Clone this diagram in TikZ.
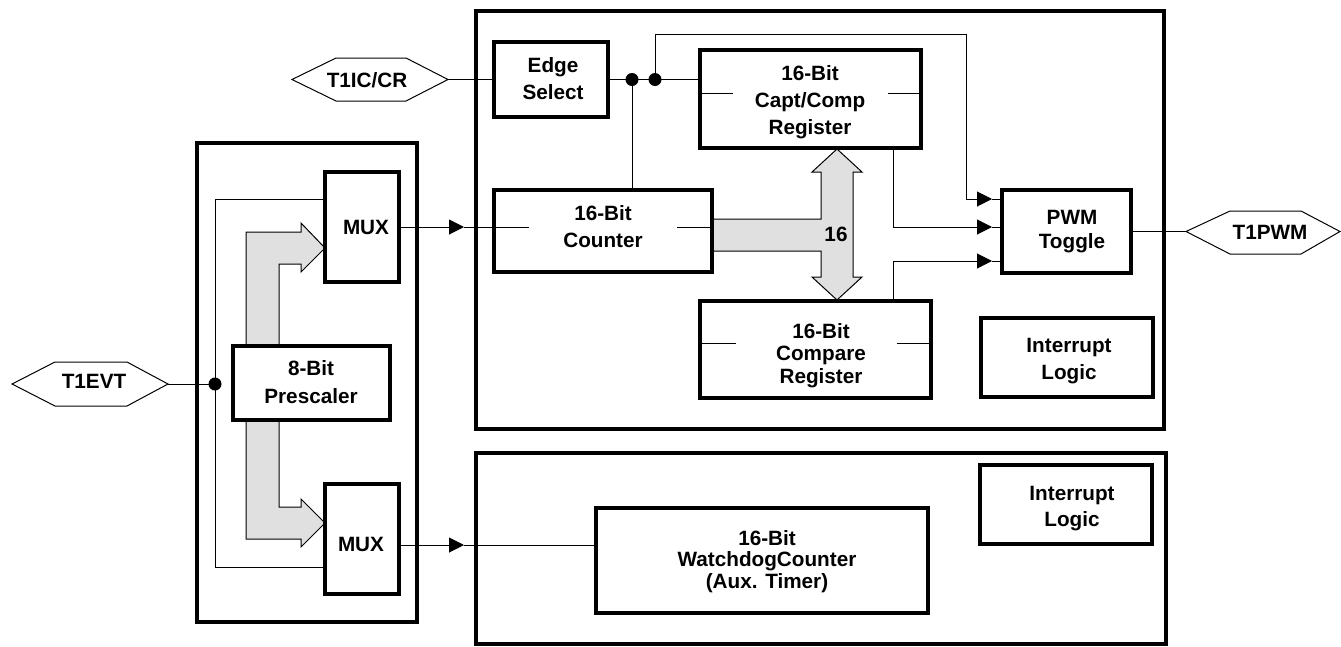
\documentclass[tikz,border=0pt]{standalone}
\usepackage{fontspec}
\setmainfont{Liberation Sans}
\usetikzlibrary{arrows.meta,fit}
\definecolor{busgray}{RGB}{224,224,224}
\begin{document}
\begin{tikzpicture}[x=1pt,y=-1pt,
  ln/.style={line width=1pt, line join=miter},
  blk/.style={draw, line width=3.3pt, inner sep=0pt, line join=miter},
  arr/.style={-{Triangle[length=15pt,width=15pt]}},
  txt/.style={inner sep=0pt, align=center, font=\bfseries\fontsize{20.7}{27}\selectfont},
  bus/.style={fill=busgray, draw, line width=1pt, line join=miter},
  dot/.style={fill=black},
]
\useasboundingbox (0,0) rectangle (1341,646);

% ---- wide buses ----
\path[bus] (246,346) -- (246,232) -- (301,232) -- (301,223) -- (325,248) -- (301,272) -- (301,264) -- (279,264) -- (279,346);
\path[bus] (246,420) -- (246,539) -- (301,539) -- (301,547) -- (325,523) -- (301,499) -- (301,507) -- (279,507) -- (279,420);
\path[bus] (712,219) -- (821,219) -- (821,172) -- (812,172) -- (837,149) -- (862,172) -- (853,172) -- (853,277) -- (862,277) -- (837,300) -- (812,277) -- (821,277) -- (821,251) -- (712,251);

% ---- frames ----
\node[blk, fit={(476,11) (1164,429)}] (capframe) {};
\node[blk, fit={(476,453) (1166,644)}] (wdframe) {};
\node[blk, fit={(197,143) (417,622)}] (preframe) {};

% ---- blocks ----
\node[blk, fit={(494,42) (608,117)}] (edge) {};
\node[blk, fit={(700,50) (921,148)}] (capt) {};
\node[blk, fit={(494,190) (712,272)}] (counter) {};
\node[blk, fit={(700,301) (931,398)}] (compare) {};
\node[blk, fit={(1002,190) (1131,273)}] (pwm) {};
\node[blk, fit={(981,318) (1153,397)}] (intA) {};
\node[blk, fit={(980,465) (1152,544)}] (intB) {};
\node[blk, fit={(596,508) (928,613)}] (wdog) {};
\node[blk, fit={(233,346) (390,420)}] (presc) {};
\node[blk, fit={(325,172) (399,282)}] (muxA) {};
\node[blk, fit={(325,484) (399,594)}] (muxB) {};

% register stubs
\draw[ln] (capt.west |- 0,93) -- (733,93);
\draw[ln] (888,93) -- (capt.east |- 0,93);
\draw[ln] (counter.west |- 0,227) -- (529,227);
\draw[ln] (677,227) -- (counter.east |- 0,227);
\draw[ln] (compare.west |- 0,343) -- (736,343);
\draw[ln] (897,343) -- (compare.east |- 0,343);

% ---- hexagon pins ----
\draw[ln] (292,79.5) -- (336,58) -- (406,58) -- (448,79.5) -- (406,101) -- (336,101) -- cycle;
\coordinate (iccrE) at (448,79.5);
\node[txt] (iccr) at (367,81.8) {T1IC/CR\vphantom{g}};
\draw[ln] (12,384) -- (55,362) -- (127,362) -- (168,384) -- (127,406) -- (55,406) -- cycle;
\coordinate (evtE) at (168,384);
\node[txt] (evt) at (94,383.8) {T1EVT\vphantom{g}};
\draw[ln] (1186,231.5) -- (1230,211) -- (1301,211) -- (1340,231.5) -- (1301,254) -- (1230,254) -- cycle;
\coordinate (pwmW) at (1186,231.5);
\node[txt] (t1pwm) at (1270,234.8) {T1PWM\vphantom{g}};

% ---- connectors ----
\coordinate (d1) at (632,79.5);
\coordinate (d2) at (655,79.5);
\draw[ln] (iccrE) -- (edge.west);
\draw[ln] (edge.east) -- (edge.east -| capt.west);
\draw[ln] (d1) -- (d1 |- counter.north);
\fill[dot] (d1) circle[radius=6.5pt];
\fill[dot] (d2) circle[radius=6.5pt];

\coordinate (pa1) at (992,199);
\coordinate (pa2) at (992,227);
\coordinate (pa3) at (992,261);
\draw[ln,arr] (d2) -- (655,34) -- (966,34) -- (966,199) -- (pa1);
\draw[ln] (pa1) -- (pa1 -| pwm.west);
\draw[ln,arr] (capt.south -| 893,0) -- (893,227) -- (pa2);
\draw[ln] (pa2) -- (pa2 -| pwm.west);
\draw[ln,arr] (compare.north -| 893,0) -- (893,261) -- (pa3);
\draw[ln] (pa3) -- (pa3 -| pwm.west);
\draw[ln] (pwm.east) -- (pwmW);

\coordinate (ca) at (464,227);
\draw[ln,arr] (muxA.east |- ca) -- (ca);
\draw[ln] (ca) -- (ca -| counter.west);
\coordinate (wa) at (464,545);
\draw[ln,arr] (muxB.east |- wa) -- (wa);
\draw[ln] (wa) -- (wa -| wdog.west);

\coordinate (d3) at (215,384);
\draw[ln] (evtE) -- (d3);
\draw[ln] (muxA.west |- 0,199) -- (215,199) -- (215,567) -- (muxB.west |- 0,567);
\fill[dot] (d3) circle[radius=6.5pt];

% ---- texts ----
\node[txt] (edge-t) at (553,80.3) {Edge\\Select\vphantom{g}};
\node[txt] (capt-t) at (810,101.8) {16-Bit\\Capt/Comp\\Register\vphantom{g}};
\node[txt] (counter-t) at (603,228.8) {16-Bit\\Counter\vphantom{g}};
\node[txt, font=\bfseries\fontsize{20.7}{22.5}\selectfont] (compare-t) at (821,355.3) {16-Bit\\Compare\\Register\vphantom{g}};
\node[txt, font=\bfseries\fontsize{20.7}{24}\selectfont] (pwm-t) at (1072,231.8) {PWM\\Toggle\vphantom{g}};
\node[txt] (intA-t) at (1069,361.3) {Interrupt\\Logic\vphantom{g}};
\node[txt, font=\bfseries\fontsize{20.7}{26}\selectfont] (intB-t) at (1072,508.8) {Interrupt\\Logic\vphantom{g}};
\node[txt, font=\bfseries\fontsize{20.7}{21.5}\selectfont] (wdog-t) at (767,561.3) {16-Bit\\WatchdogCounter\\(Aux. Timer)\vphantom{g}};
\node[txt, font=\bfseries\fontsize{20.7}{28}\selectfont] (presc-t) at (311,383.8) {8-Bit\\Prescaler\vphantom{g}};
\node[txt] (muxA-t) at (366,229.8) {MUX\vphantom{g}};
\node[txt] (muxB-t) at (361,546.8) {MUX\vphantom{g}};
\node[txt] (bus-t) at (836,236.8) {16\vphantom{g}};
\end{tikzpicture}
\end{document}
